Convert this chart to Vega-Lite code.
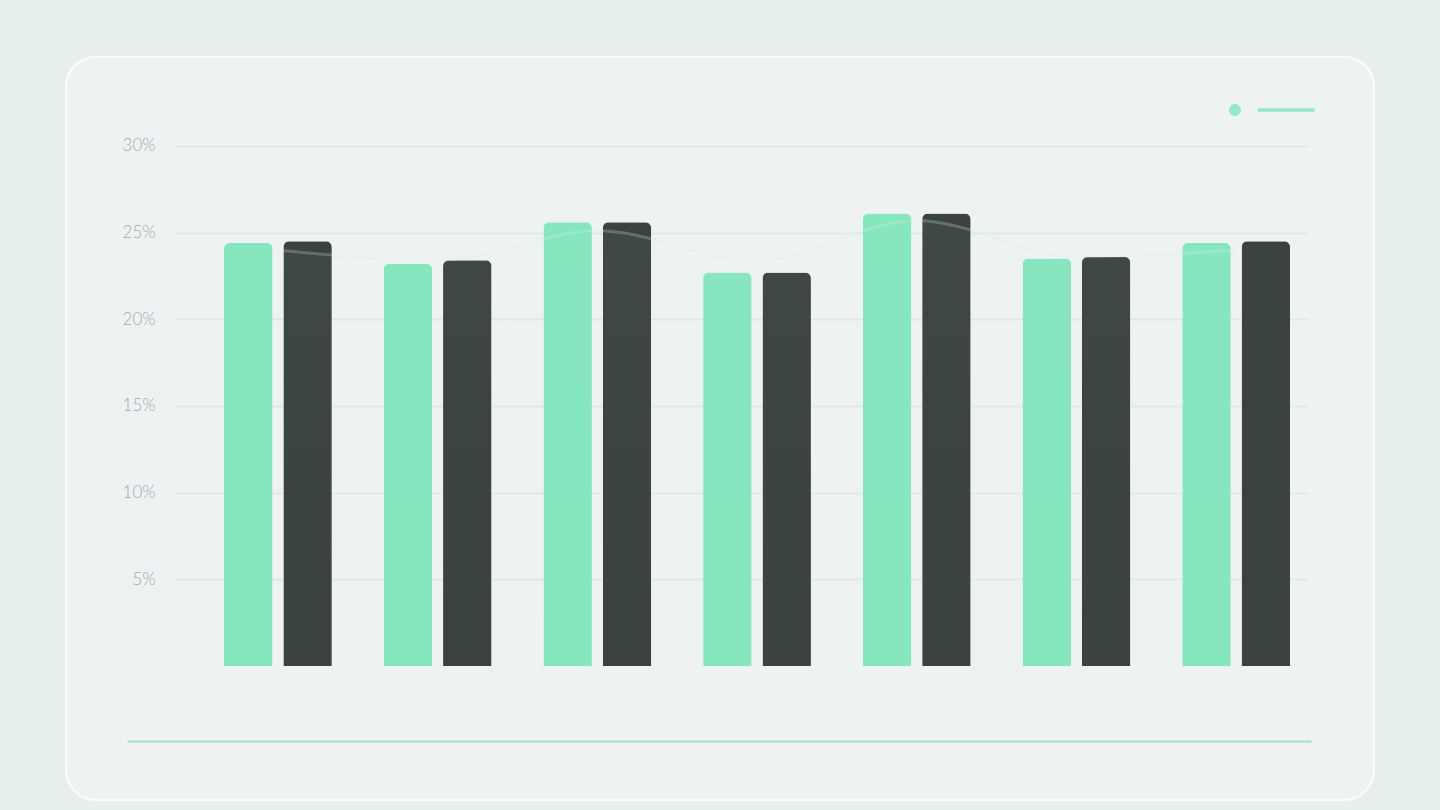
{
  "$schema": "https://vega.github.io/schema/vega-lite/v6.json",
  "width": 1308,
  "height": 743,
  "autosize": {"type": "none"},
  "padding": {"left": 66, "top": 57, "right": 66, "bottom": 10},
  "background": "#e7efed",
  "config": {
    "view": {"fill": "#eff2f3", "stroke": "#fbfdfd", "strokeWidth": 2, "cornerRadius": 30},
    "axis": {"labelFont": "Lato", "labelFontWeight": 300, "labelColor": "#a3a9a8"}
  },
  "datasets": {
    "bars": [
      {"group": "1", "series": "A", "value": 0.244},
      {"group": "1", "series": "B", "value": 0.245},
      {"group": "2", "series": "A", "value": 0.232},
      {"group": "2", "series": "B", "value": 0.234},
      {"group": "3", "series": "A", "value": 0.256},
      {"group": "3", "series": "B", "value": 0.256},
      {"group": "4", "series": "A", "value": 0.227},
      {"group": "4", "series": "B", "value": 0.227},
      {"group": "5", "series": "A", "value": 0.261},
      {"group": "5", "series": "B", "value": 0.261},
      {"group": "6", "series": "A", "value": 0.235},
      {"group": "6", "series": "B", "value": 0.236},
      {"group": "7", "series": "A", "value": 0.244},
      {"group": "7", "series": "B", "value": 0.245}
    ],
    "trend": [
      {"group": "1", "trend": 0.240},
      {"group": "2", "trend": 0.234},
      {"group": "3", "trend": 0.251},
      {"group": "4", "trend": 0.234},
      {"group": "5", "trend": 0.257},
      {"group": "6", "trend": 0.236},
      {"group": "7", "trend": 0.240}
    ]
  },
  "resolve": {"axis": {"y": "independent"}},
  "layer": [
    {
      "data": {"name": "bars"},
      "mark": {"type": "bar", "cornerRadiusEnd": 6},
      "encoding": {
        "x": {
          "field": "group",
          "type": "nominal",
          "axis": null,
          "scale": {"type": "band", "paddingInner": 0.325, "paddingOuter": 0.7576, "align": 0.653}
        },
        "xOffset": {
          "field": "series",
          "type": "nominal",
          "scale": {"paddingInner": 0.183, "paddingOuter": 0}
        },
        "y": {
          "field": "value",
          "type": "quantitative",
          "scale": {"domain": [-0.0773, 0.3513], "nice": false, "zero": false},
          "axis": {
            "orient": "left",
            "offset": -109,
            "values": [0.05, 0.1, 0.15, 0.2, 0.25, 0.3],
            "format": ".0%",
            "title": null,
            "domain": false,
            "ticks": false,
            "grid": false,
            "labelPadding": 20,
            "labelFontSize": 17
          }
        },
        "color": {
          "field": "series",
          "type": "nominal",
          "scale": {"domain": ["A", "B"], "range": ["#86e6be", "#3b4242"]},
          "legend": {
            "values": ["A"],
            "orient": "none",
            "legendX": 1163,
            "legendY": 47,
            "title": null,
            "labelExpr": "''",
            "symbolSize": 144,
            "symbolOpacity": 0.85,
            "symbolStrokeWidth": 0,
            "symbolType": "M -1 0 A 1 1 0 1 0 1 0 A 1 1 0 1 0 -1 0 Z M 3.8 -0.3 L 13.3 -0.3 L 13.3 0.3 L 3.8 0.3 Z"
          }
        }
      }
    },
    {
      "data": {"name": "trend"},
      "mark": {
        "type": "area",
        "interpolate": "monotone",
        "color": {
          "gradient": "linear",
          "x1": 0, "y1": 0, "x2": 0, "y2": 1,
          "stops": [
            {"offset": 0, "color": "rgba(190,238,216,0.04)"},
            {"offset": 0.4, "color": "rgba(190,238,216,0.01)"},
            {"offset": 1, "color": "rgba(190,238,216,0)"}
          ]
        }
      },
      "encoding": {
        "x": {"field": "group", "type": "nominal", "axis": null},
        "y": {
          "field": "trend",
          "type": "quantitative",
          "axis": {
            "orient": "right",
            "offset": -1199,
            "values": [0.05, 0.1, 0.15, 0.2, 0.25, 0.3],
            "title": null,
            "labels": false,
            "domain": false,
            "grid": false,
            "ticks": true,
            "tickSize": 1133,
            "tickWidth": 1.5,
            "tickColor": "#d7eae4"
          }
        }
      }
    },
    {
      "data": {"name": "trend"},
      "mark": {"type": "line", "interpolate": "monotone", "stroke": "#d4f3e6", "strokeWidth": 3, "opacity": 0.25},
      "encoding": {
        "x": {"field": "group", "type": "nominal", "axis": null},
        "y": {
          "field": "trend",
          "type": "quantitative",
          "axis": {
            "orient": "right",
            "offset": -1247,
            "values": [-0.0433],
            "title": null,
            "labels": false,
            "domain": false,
            "grid": false,
            "ticks": true,
            "tickSize": 1184,
            "tickWidth": 2,
            "tickColor": "#a9dcc9"
          }
        }
      }
    }
  ]
}
